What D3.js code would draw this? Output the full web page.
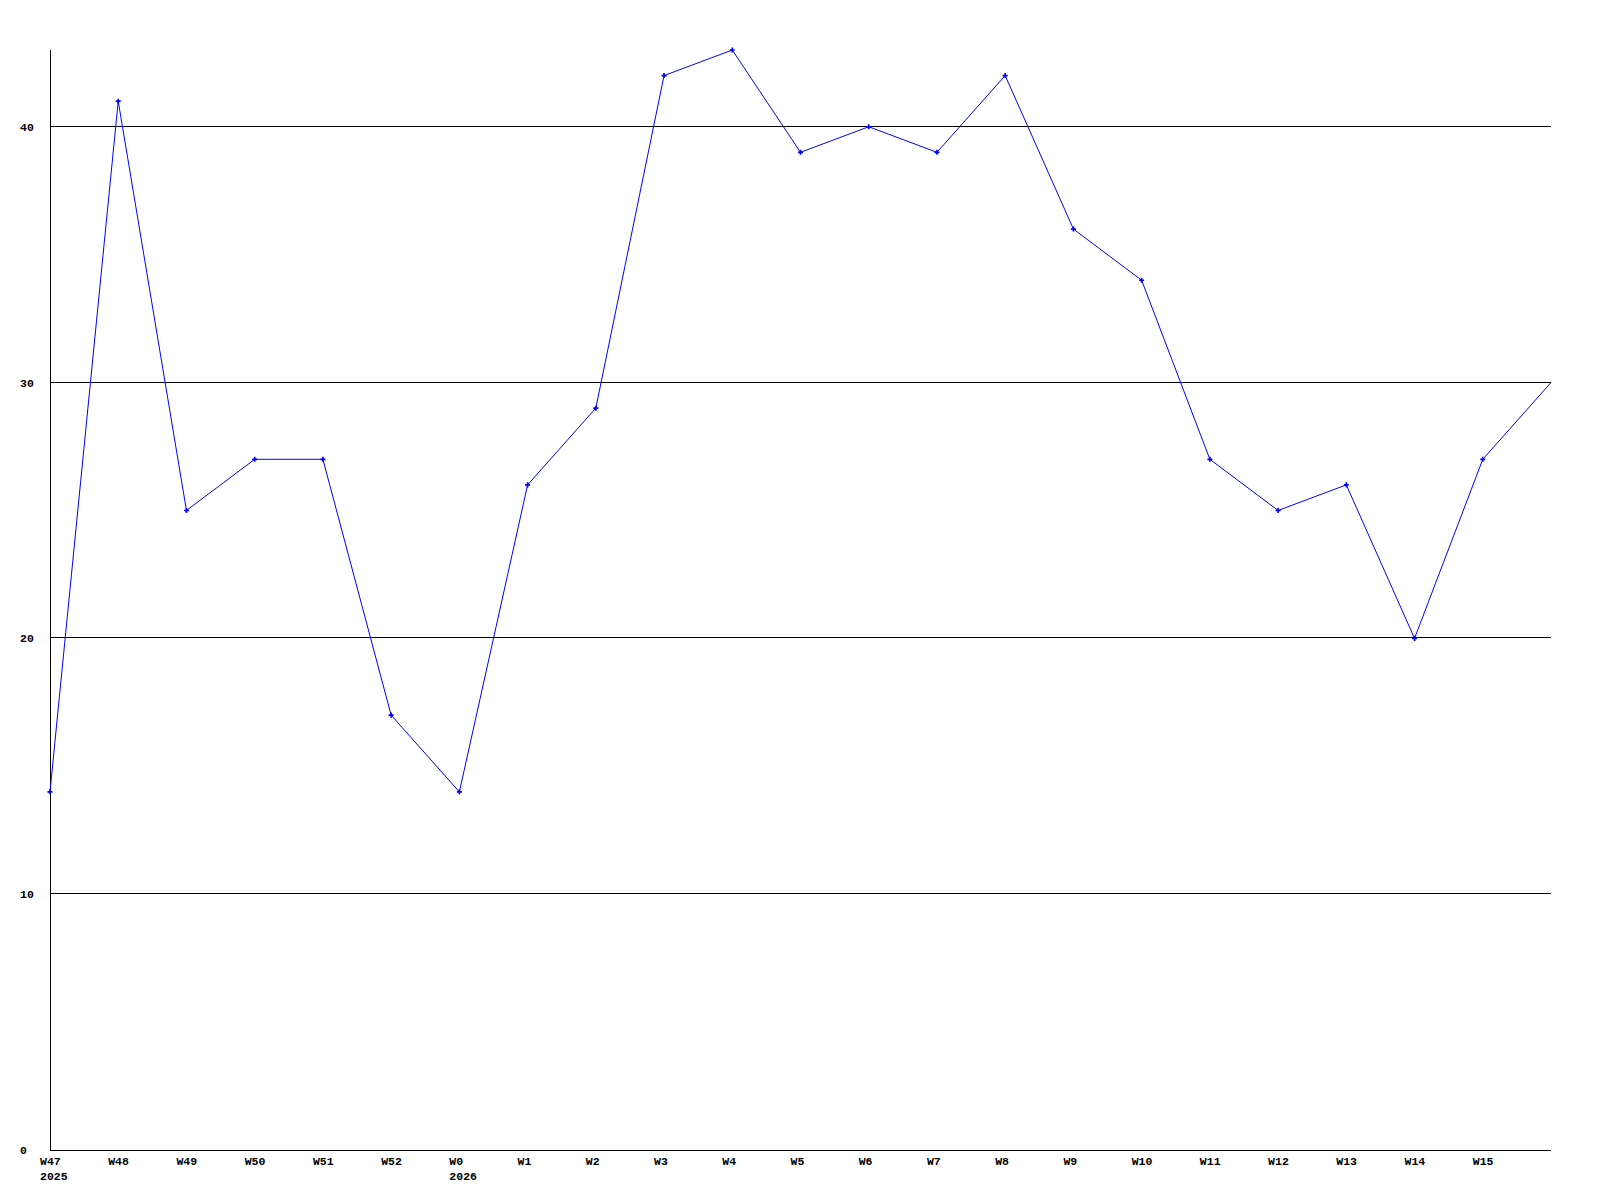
<!DOCTYPE html>
<html>
<head>
<meta charset="utf-8">
<script src="https://cdn.jsdelivr.net/npm/d3@7"></script>
<style>
body { margin: 0; background: #fff; }
text { font-family: "Liberation Mono", "DejaVu Sans Mono", monospace; font-weight: bold; font-size: 11.5px; }
</style>
</head>
<body>
<div id="chart"></div>
<script>
var weeks = ["W47", "W48", "W49", "W50", "W51", "W52", "W0", "W1", "W2", "W3", "W4",
	"W5", "W6", "W7", "W8", "W9", "W10", "W11", "W12", "W13", "W14", "W15", ""];
var years = {"W47": "2025", "W0": "2026"};
var counts = [14, 41, 25, 27, 27, 17, 14, 26, 29, 42, 43, 39, 40, 39, 42, 36, 34, 27, 25, 26, 20, 27, 30];
var yTicks = [0, 10, 20, 30, 40];

var w = 1600;
var h = 1200;
var padL = 50, padR = 1551, padT = 50, padB = 1150;

var svg = d3.select("#chart").append("svg")
	.attr("width", w)
	.attr("height", h);

var x = d3.scaleLinear().domain([0, weeks.length - 1]).range([padL, padR]);
var y = d3.scaleLinear().domain([0, 43]).range([padB, padT]);

// grid lines
svg.selectAll("line.grid")
	.data(yTicks.filter(function(d) { return d > 0; }))
	.enter()
	.append("line")
	.attr("x1", padL).attr("x2", padR)
	.attr("y1", function(d) { return Math.round(y(d)) - 0.5; })
	.attr("y2", function(d) { return Math.round(y(d)) - 0.5; })
	.attr("stroke", "#000")
	.attr("stroke-width", 1);

// y labels
svg.selectAll("text.ylab")
	.data(yTicks)
	.enter()
	.append("text")
	.attr("x", 20)
	.attr("y", function(d) { return Math.round(y(d)) + 4; })
	.text(function(d) { return d; });

// axes
svg.append("line")
	.attr("x1", padL + 0.5).attr("x2", padL + 0.5)
	.attr("y1", padT).attr("y2", padB)
	.attr("stroke", "#000");
svg.append("line")
	.attr("x1", padL).attr("x2", padR)
	.attr("y1", padB + 0.5).attr("y2", padB + 0.5)
	.attr("stroke", "#000");

// x labels
svg.selectAll("text.xlab")
	.data(weeks)
	.enter()
	.append("text")
	.attr("x", function(d, i) { return x(i) - 10; })
	.attr("y", padB + 15)
	.text(function(d) { return d; });
svg.selectAll("text.year")
	.data(weeks.filter(function(d) { return years[d]; }))
	.enter()
	.append("text")
	.attr("x", function(d) { return x(weeks.indexOf(d)) - 10; })
	.attr("y", padB + 30)
	.text(function(d) { return years[d]; });

// line
var line = d3.line()
	.x(function(d, i) { return x(i); })
	.y(function(d) { return y(d); });
svg.append("path")
	.datum(counts)
	.attr("d", line)
	.attr("fill", "none")
	.attr("stroke", "#0000ff")
	.attr("stroke-width", 1);

// markers
svg.selectAll("path.pt")
	.data(counts.slice(0, counts.length - 1))
	.enter()
	.append("path")
	.attr("d", d3.symbol().type(d3.symbolCross).size(14))
	.attr("transform", function(d, i) { return "translate(" + x(i) + "," + y(d) + ")"; })
	.attr("fill", "#0000ff");
</script>
</body>
</html>
